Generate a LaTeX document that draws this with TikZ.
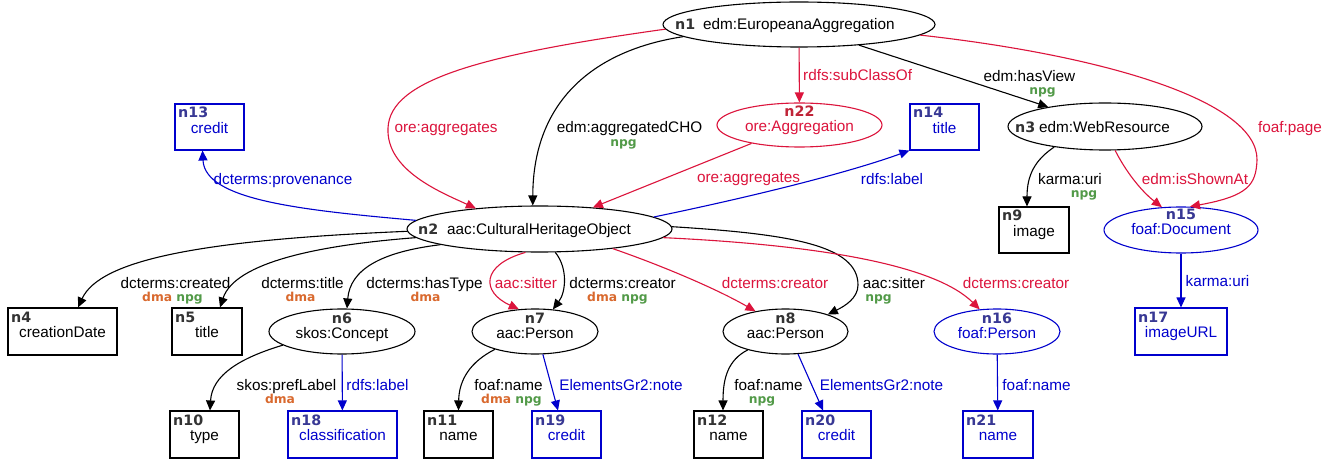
\documentclass[tikz,border=0pt]{standalone}
\usepackage{fontspec}
\setmainfont{Liberation Sans}
\newfontfamily\dejavu{DejaVu Sans}
\usetikzlibrary{arrows.meta,shapes.geometric}
\definecolor{ered}{HTML}{DC143C}
\definecolor{eblue}{HTML}{0000CD}
\definecolor{idblue}{HTML}{383894}
\definecolor{idgray}{HTML}{333333}
\definecolor{idred}{HTML}{C02438}
\definecolor{dmaor}{HTML}{D9692E}
\definecolor{npggr}{HTML}{529A48}
\tikzset{
  lbl/.style={font=\fontsize{15.3}{18}\selectfont, inner sep=0pt, anchor=base},
  tag/.style={font=\dejavu\bfseries\fontsize{12.3}{14}\selectfont, inner sep=0pt, anchor=base},
  idt/.style={font=\dejavu\bfseries\fontsize{14.3}{16}\selectfont, inner sep=0pt, anchor=base},
  ell/.style={ellipse, draw, line width=1.1pt, inner sep=0pt},
  rbox/.style={rectangle, draw, line width=1.1pt, inner sep=0pt},
  conn/.style={line width=1.1pt, -{Triangle[length=10pt,width=9pt]}},
}
\newcommand\rectnode[8]{%
  \node[rbox, draw=#7, minimum width={(#4-#2)*1pt}, minimum height={(#5-#3)*1pt}] (#1) at ({(#2+#4)/2},{(#3+#5)/2}) {};
  \node[idt, anchor=base west, text=#6] (#1id) at ({#2+3},{#3+14}) {#1};
  \node[lbl, text=#7] (#1tx) at ({(#2+#4)/2},{#3+29.5}) {#8};
}
\newcommand\ellnode[8]{%
  \node[ell, draw=#7, minimum width=#4pt, minimum height=#5pt] (#1) at (#2,#3) {};
  \node[idt, text=#6] (#1id) at (#2,{#3-8.5}) {#1};
  \node[lbl, text=#7] (#1tx) at (#2,{#3+6.5}) {#8};
}
\begin{document}
\begin{tikzpicture}[x=1pt,y=-1pt]
\useasboundingbox[fill=white] (0,0) rectangle (1335,462);

% single-line ellipses
\node[ell, minimum width=272pt, minimum height=45pt] (n1) at (799,24.5) {};
\node[idt, anchor=base west, text=idgray] (n1id) at (675,30) {n1};
\node[lbl, anchor=base west] (n1tx) at (703,30) {edm:EuropeanaAggregation};

\node[ell, minimum width=265pt, minimum height=46pt] (n2) at (539.5,229) {};
\node[idt, anchor=base west, text=idgray] (n2id) at (418,235) {n2};
\node[lbl, anchor=base west] (n2tx) at (447,235) {aac:CulturalHeritageObject};

\node[ell, minimum width=194pt, minimum height=47pt] (n3) at (1105,126.5) {};
\node[idt, anchor=base west, text=idgray] (n3id) at (1015,133) {n3};
\node[lbl, anchor=base west] (n3tx) at (1039,133) {edm:WebResource};

% two-line ellipses
\ellnode{n22}{799.5}{125}{165}{44}{idred}{ered}{ore:Aggregation}
\node[ell, draw=eblue, minimum width=154pt, minimum height=46pt] (n15) at (1181,230) {};
\node[idt, text=idblue] (n15id) at (1181,220) {n15};
\node[lbl, text=eblue] (n15tx) at (1181,235) {foaf:Document};
\ellnode{n6}{342}{331.5}{146}{45}{idgray}{black}{skos:Concept}
\ellnode{n7}{535}{331.5}{126}{45}{idgray}{black}{aac:Person}
\ellnode{n8}{785.5}{331.5}{125}{45}{idgray}{black}{aac:Person}
\ellnode{n16}{997}{331.5}{126}{45}{idblue}{eblue}{foaf:Person}

% boxes
\rectnode{n13}{175}{104}{244}{150}{idblue}{eblue}{credit}
\rectnode{n14}{910}{104}{979}{150}{idblue}{eblue}{title}
\rectnode{n9}{999}{207}{1069}{253}{idgray}{black}{image}
\rectnode{n4}{8}{308}{117}{355}{idgray}{black}{creationDate}
\rectnode{n5}{172}{308}{242}{355}{idgray}{black}{title}
\rectnode{n17}{1135}{308}{1227}{355}{idblue}{eblue}{imageURL}
\rectnode{n10}{170}{411}{239}{458}{idgray}{black}{type}
\rectnode{n18}{288}{411}{397}{458}{idblue}{eblue}{classification}
\rectnode{n11}{424}{411}{493}{458}{idgray}{black}{name}
\rectnode{n19}{532}{411}{601}{458}{idblue}{eblue}{credit}
\rectnode{n12}{694}{411}{763}{458}{idgray}{black}{name}
\rectnode{n20}{802}{411}{871}{458}{idblue}{eblue}{credit}
\rectnode{n21}{963}{411}{1033}{458}{idblue}{eblue}{name}

% connectors
\draw[conn] (n1.186) .. controls (595,50) and (533,100) .. (n2.106);
\draw[conn,ered] (n1.182) .. controls (480,55) and (390,80) .. (388,128) .. controls (386,170) and (440,192) .. (n2.162);
\draw[conn,ered] (n1) -- (n22);
\draw[conn,ered] (n22.201) -- (n2.22);
\draw[conn] (n1.341) -- (n3.161);
\draw[conn,ered] (n1.355) .. controls (1100,55) and (1258,100) .. (1257,160) .. controls (1256,185) and (1248,196) .. (n15.69);
\draw[conn] (n3.202) .. controls (1035,160) and (1027,175) .. ([xshift=-7pt]n9.north);
\draw[conn,ered] (n3.293) .. controls (1125,170) and (1140,190) .. (n15.130);
\draw[conn,eblue] (n15) -- (n17);
\draw[conn,eblue] (n2.176) .. controls (300,210) and (205,200) .. ([xshift=-7pt]n13.south);
\draw[conn,eblue] (n2.6) .. controls (760,195) and (850,172) .. (n14.south west);
\draw[conn] (n2.181) .. controls (200,240) and (100,260) .. ([xshift=15.5pt]n4.north);
\draw[conn] (n2.184) .. controls (320,245) and (235,262) .. ([xshift=13pt]n5.north);
\draw[conn] (n2.189) .. controls (380,252) and (350,270) .. ([xshift=5pt]n6.north);
\draw[conn,ered] (n2.239) .. controls (481,265) and (481,292) .. (n7.126);
\draw[conn] (n2.304) .. controls (568,268) and (566,292) .. (n7.51);
\draw[conn,ered] (n2.345) .. controls (660,265) and (715,288) .. (n8.146);
\draw[conn] (n2.1) .. controls (790,234) and (858,245) .. (858,285) .. controls (858,298) and (845,306) .. (n8.22);
\draw[conn,ered] (n2.356) .. controls (820,245) and (935,265) .. (n16.128);
\draw[conn] (n6.193) .. controls (240,358) and (212,375) .. ([xshift=5.5pt]n10.north);
\draw[conn,eblue] (n6) -- (n18);
\draw[conn] (n7.204) .. controls (470,362) and (459,380) .. (n11.north);
\draw[conn,eblue] (n7.289) -- ([xshift=-8.5pt]n19.north);
\draw[conn] (n8.206) .. controls (728,360) and (723,378) .. ([xshift=-5.5pt]n12.north);
\draw[conn,eblue] (n8.299) -- ([xshift=-13.5pt]n20.north);
\draw[conn,eblue] (n16) -- (n21);

% connector labels
\node[lbl] (l1) at (629.5,133) {edm:aggregatedCHO};
\node[tag, text=npggr] (l1b) at (623.5,147) {npg};
\node[lbl, text=ered] (l2) at (446,133) {ore:aggregates};
\node[lbl, text=ered, anchor=base west] (l3) at (803,81) {rdfs:subClassOf};
\node[lbl, text=ered] (l4) at (748.5,183) {ore:aggregates};
\node[lbl] (l5) at (1029.5,82) {edm:hasView};
\node[tag, text=npggr] (l5b) at (1042.5,95) {npg};
\node[lbl, text=ered] (l6) at (1290,133) {foaf:page};
\node[lbl] (l7) at (1070,185) {karma:uri};
\node[tag, text=npggr] (l7b) at (1084,198) {npg};
\node[lbl, text=ered] (l8) at (1195,185) {edm:isShownAt};
\node[lbl, text=eblue] (l9) at (1217.5,287) {karma:uri};
\node[lbl, text=eblue] (l10) at (283,185) {dcterms:provenance};
\node[lbl, text=eblue] (l11) at (892,185) {rdfs:label};
\node[lbl] (l12) at (175.5,288) {dcterms:created};
\node[tag] (l12b) at (172.5,301.5) {\textcolor{dmaor}{dma} \textcolor{npggr}{npg}};
\node[lbl] (l13) at (302.5,288) {dcterms:title};
\node[tag, text=dmaor] (l13b) at (300.5,301.5) {dma};
\node[lbl] (l14) at (424.5,288) {dcterms:hasType};
\node[tag, text=dmaor] (l14b) at (425.5,301.5) {dma};
\node[lbl, text=ered] (l15) at (526,288) {aac:sitter};
\node[lbl] (l16) at (622.5,288) {dcterms:creator};
\node[tag] (l16b) at (617.5,301.5) {\textcolor{dmaor}{dma} \textcolor{npggr}{npg}};
\node[lbl, text=ered] (l17) at (775,288) {dcterms:creator};
\node[lbl] (l18) at (894,288) {aac:sitter};
\node[tag, text=npggr] (l18b) at (878.5,301.5) {npg};
\node[lbl, text=ered] (l19) at (1016,288) {dcterms:creator};
\node[lbl] (l20) at (286.5,390) {skos:prefLabel};
\node[tag, text=dmaor] (l20b) at (280,403.5) {dma};
\node[lbl, text=eblue] (l21) at (377.5,390) {rdfs:label};
\node[lbl] (l22) at (508.5,390) {foaf:name};
\node[tag] (l22b) at (511.5,403.5) {\textcolor{dmaor}{dma} \textcolor{npggr}{npg}};
\node[lbl, text=eblue] (l23) at (621,390) {ElementsGr2:note};
\node[lbl] (l24) at (768.5,390) {foaf:name};
\node[tag, text=npggr] (l24b) at (762,403.5) {npg};
\node[lbl, text=eblue] (l25) at (881.5,390) {ElementsGr2:note};
\node[lbl, text=eblue] (l26) at (1036.5,390) {foaf:name};
\end{tikzpicture}
\end{document}
